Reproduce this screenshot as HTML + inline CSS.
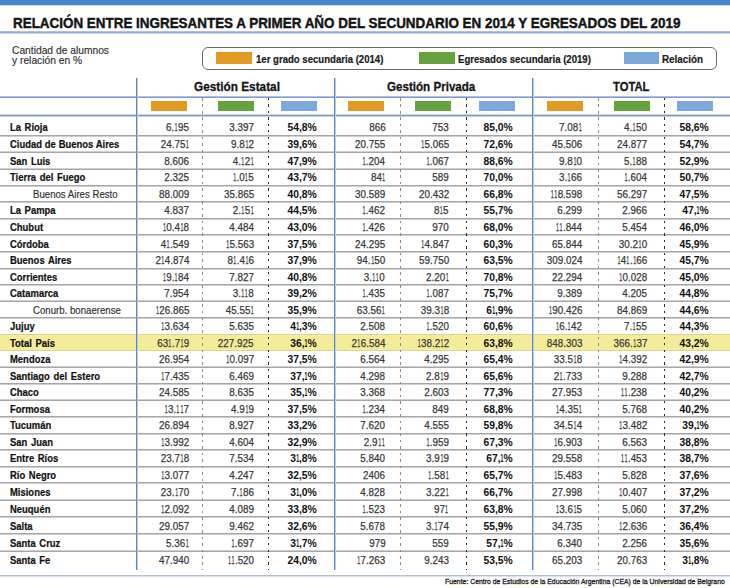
<!DOCTYPE html>
<html><head><meta charset="utf-8"><style>
html,body{margin:0;padding:0;background:#fff;}
body{width:730px;height:588px;overflow:hidden;position:relative;font-family:'Liberation Sans', sans-serif;}
</style></head><body>
<div style="position:absolute;left:0px;top:0px;width:730px;height:4px;background:#4589CD;"></div>
<div style="position:absolute;left:0px;top:4px;width:730px;height:1px;background:#5A84B8;"></div>
<div style="position:absolute;left:0px;top:5px;width:730px;height:1px;background:#C4DDF5;"></div>
<div style="position:absolute;left:13.10px;top:15.38px;font:700 15.5px/15.5px 'Liberation Sans', sans-serif;color:#141414;white-space:nowrap;transform:scaleX(0.8662);transform-origin:0 0;-webkit-text-stroke:0.45px #141414;">RELACIÓN ENTRE INGRESANTES A PRIMER AÑO DEL SECUNDARIO EN 2014 Y EGRESADOS DEL 2019</div>
<div style="position:absolute;left:0px;top:31px;width:730px;height:1px;background:#B4C0D8;"></div>
<div style="position:absolute;left:0px;top:32px;width:730px;height:1px;background:#9DADCB;"></div>
<div style="position:absolute;left:0px;top:33px;width:730px;height:1px;background:#C8D4EE;"></div>
<div style="position:absolute;left:12.40px;top:45.09px;font:400 11px/11px 'Liberation Sans', sans-serif;color:#2e2e2e;white-space:nowrap;transform:scaleX(0.9330);transform-origin:0 0;-webkit-text-stroke:0.15px #2e2e2e;">Cantidad de alumnos</div>
<div style="position:absolute;left:12.40px;top:55.09px;font:400 11px/11px 'Liberation Sans', sans-serif;color:#2e2e2e;white-space:nowrap;transform:scaleX(0.9330);transform-origin:0 0;-webkit-text-stroke:0.15px #2e2e2e;">y relación en %</div>
<div style="position:absolute;left:202px;top:47px;width:513px;height:21px;border:1px solid #6a6a6a;border-radius:6px;"></div>
<div style="position:absolute;left:216px;top:52px;width:36px;height:12px;background:#E39A23;"></div>
<div style="position:absolute;left:255.80px;top:54.29px;font:700 11px/11px 'Liberation Sans', sans-serif;color:#1a1a1a;white-space:nowrap;transform:scaleX(0.8719);transform-origin:0 0;-webkit-text-stroke:0.2px #1a1a1a;">1er grado secundaria (2014)</div>
<div style="position:absolute;left:419px;top:52px;width:36px;height:12px;background:#67A23F;"></div>
<div style="position:absolute;left:457.50px;top:54.29px;font:700 11px/11px 'Liberation Sans', sans-serif;color:#1a1a1a;white-space:nowrap;transform:scaleX(0.8729);transform-origin:0 0;-webkit-text-stroke:0.2px #1a1a1a;">Egresados secundaria (2019)</div>
<div style="position:absolute;left:624px;top:52px;width:35px;height:12px;background:#7DA8DC;"></div>
<div style="position:absolute;left:662.00px;top:54.29px;font:700 11px/11px 'Liberation Sans', sans-serif;color:#1a1a1a;white-space:nowrap;transform:scaleX(0.8942);transform-origin:0 0;-webkit-text-stroke:0.2px #1a1a1a;">Relación</div>
<div style="position:absolute;left:193.50px;top:80.00px;font:700 13.7px/13.7px 'Liberation Sans', sans-serif;color:#141414;white-space:nowrap;transform:scaleX(0.8623);transform-origin:0 0;-webkit-text-stroke:0.3px #141414;">Gestión Estatal</div>
<div style="position:absolute;left:386.80px;top:80.00px;font:700 13.7px/13.7px 'Liberation Sans', sans-serif;color:#141414;white-space:nowrap;transform:scaleX(0.8475);transform-origin:0 0;-webkit-text-stroke:0.3px #141414;">Gestión Privada</div>
<div style="position:absolute;left:613.10px;top:80.00px;font:700 13.7px/13.7px 'Liberation Sans', sans-serif;color:#141414;white-space:nowrap;transform:scaleX(0.8200);transform-origin:0 0;-webkit-text-stroke:0.3px #141414;">TOTAL</div>
<div style="position:absolute;left:0px;top:96px;width:730px;height:1px;background:#ADC2EA;"></div>
<div style="position:absolute;left:0px;top:97px;width:730px;height:1px;background:#8398C8;"></div>
<div style="position:absolute;left:0px;top:114px;width:730px;height:1px;background:#CADCF4;"></div>
<div style="position:absolute;left:0px;top:115px;width:730px;height:1px;background:#7E94C0;"></div>
<div style="position:absolute;left:0px;top:116px;width:730px;height:1px;background:#C8D1E2;"></div>
<div style="position:absolute;left:151px;top:101px;width:36px;height:10px;background:#E39A23;"></div>
<div style="position:absolute;left:218px;top:101px;width:36px;height:10px;background:#67A23F;"></div>
<div style="position:absolute;left:281px;top:101px;width:36px;height:10px;background:#7DA8DC;"></div>
<div style="position:absolute;left:348px;top:101px;width:36px;height:10px;background:#E39A23;"></div>
<div style="position:absolute;left:415px;top:101px;width:36px;height:10px;background:#67A23F;"></div>
<div style="position:absolute;left:479px;top:101px;width:36px;height:10px;background:#7DA8DC;"></div>
<div style="position:absolute;left:546.5px;top:101px;width:36px;height:10px;background:#E39A23;"></div>
<div style="position:absolute;left:613.5px;top:101px;width:36px;height:10px;background:#67A23F;"></div>
<div style="position:absolute;left:677px;top:101px;width:36px;height:10px;background:#7DA8DC;"></div>
<div style="position:absolute;left:0px;top:334px;width:730px;height:16.5px;background:#F5EC9A;"></div>
<div style="position:absolute;left:0px;top:334px;width:730px;height:1px;background:#DDD49A;"></div>
<div style="position:absolute;left:0px;top:350px;width:730px;height:1px;background:#DDD49A;"></div>
<div style="position:absolute;left:0px;top:135px;width:730px;height:1px;background:#A6A6A6;"></div>
<div style="position:absolute;left:0px;top:136px;width:730px;height:1px;background:#CFCFCF;"></div>
<div style="position:absolute;left:0px;top:152px;width:730px;height:1px;background:#A6A6A6;"></div>
<div style="position:absolute;left:0px;top:151px;width:730px;height:1px;background:#CFCFCF;"></div>
<div style="position:absolute;left:0px;top:169px;width:730px;height:1px;background:#A6A6A6;"></div>
<div style="position:absolute;left:0px;top:168px;width:730px;height:1px;background:#CFCFCF;"></div>
<div style="position:absolute;left:0px;top:185px;width:730px;height:1px;background:#A6A6A6;"></div>
<div style="position:absolute;left:0px;top:186px;width:730px;height:1px;background:#CFCFCF;"></div>
<div style="position:absolute;left:0px;top:201px;width:730px;height:1px;background:#A6A6A6;"></div>
<div style="position:absolute;left:0px;top:202px;width:730px;height:1px;background:#CFCFCF;"></div>
<div style="position:absolute;left:0px;top:218px;width:730px;height:1px;background:#A6A6A6;"></div>
<div style="position:absolute;left:0px;top:219px;width:730px;height:1px;background:#CFCFCF;"></div>
<div style="position:absolute;left:0px;top:234px;width:730px;height:1px;background:#A6A6A6;"></div>
<div style="position:absolute;left:0px;top:235px;width:730px;height:1px;background:#CFCFCF;"></div>
<div style="position:absolute;left:0px;top:251px;width:730px;height:1px;background:#A6A6A6;"></div>
<div style="position:absolute;left:0px;top:252px;width:730px;height:1px;background:#CFCFCF;"></div>
<div style="position:absolute;left:0px;top:268px;width:730px;height:1px;background:#A6A6A6;"></div>
<div style="position:absolute;left:0px;top:269px;width:730px;height:1px;background:#CFCFCF;"></div>
<div style="position:absolute;left:0px;top:284px;width:730px;height:1px;background:#A6A6A6;"></div>
<div style="position:absolute;left:0px;top:285px;width:730px;height:1px;background:#CFCFCF;"></div>
<div style="position:absolute;left:0px;top:301px;width:730px;height:1px;background:#A6A6A6;"></div>
<div style="position:absolute;left:0px;top:300px;width:730px;height:1px;background:#CFCFCF;"></div>
<div style="position:absolute;left:0px;top:317px;width:730px;height:1px;background:#A6A6A6;"></div>
<div style="position:absolute;left:0px;top:318px;width:730px;height:1px;background:#CFCFCF;"></div>
<div style="position:absolute;left:0px;top:367px;width:730px;height:1px;background:#A6A6A6;"></div>
<div style="position:absolute;left:0px;top:366px;width:730px;height:1px;background:#CFCFCF;"></div>
<div style="position:absolute;left:0px;top:383px;width:730px;height:1px;background:#A6A6A6;"></div>
<div style="position:absolute;left:0px;top:384px;width:730px;height:1px;background:#CFCFCF;"></div>
<div style="position:absolute;left:0px;top:400px;width:730px;height:1px;background:#A6A6A6;"></div>
<div style="position:absolute;left:0px;top:399px;width:730px;height:1px;background:#CFCFCF;"></div>
<div style="position:absolute;left:0px;top:416px;width:730px;height:1px;background:#A6A6A6;"></div>
<div style="position:absolute;left:0px;top:417px;width:730px;height:1px;background:#CFCFCF;"></div>
<div style="position:absolute;left:0px;top:433px;width:730px;height:1px;background:#A6A6A6;"></div>
<div style="position:absolute;left:0px;top:434px;width:730px;height:1px;background:#CFCFCF;"></div>
<div style="position:absolute;left:0px;top:449px;width:730px;height:1px;background:#A6A6A6;"></div>
<div style="position:absolute;left:0px;top:450px;width:730px;height:1px;background:#CFCFCF;"></div>
<div style="position:absolute;left:0px;top:466px;width:730px;height:1px;background:#A6A6A6;"></div>
<div style="position:absolute;left:0px;top:467px;width:730px;height:1px;background:#CFCFCF;"></div>
<div style="position:absolute;left:0px;top:482px;width:730px;height:1px;background:#A6A6A6;"></div>
<div style="position:absolute;left:0px;top:483px;width:730px;height:1px;background:#CFCFCF;"></div>
<div style="position:absolute;left:0px;top:500px;width:730px;height:1px;background:#A6A6A6;"></div>
<div style="position:absolute;left:0px;top:499px;width:730px;height:1px;background:#CFCFCF;"></div>
<div style="position:absolute;left:0px;top:516px;width:730px;height:1px;background:#A6A6A6;"></div>
<div style="position:absolute;left:0px;top:517px;width:730px;height:1px;background:#CFCFCF;"></div>
<div style="position:absolute;left:0px;top:533px;width:730px;height:1px;background:#A6A6A6;"></div>
<div style="position:absolute;left:0px;top:534px;width:730px;height:1px;background:#CFCFCF;"></div>
<div style="position:absolute;left:0px;top:551px;width:730px;height:1px;background:#A6A6A6;"></div>
<div style="position:absolute;left:0px;top:550px;width:730px;height:1px;background:#CFCFCF;"></div>
<div style="position:absolute;left:136px;top:77.5px;width:1px;height:492.5px;background:#5E84B8;"></div>
<div style="position:absolute;left:137px;top:77.5px;width:1px;height:492.5px;background:#B4D2F0;"></div>
<div style="position:absolute;left:334px;top:77.5px;width:1px;height:492.5px;background:#5E84B8;"></div>
<div style="position:absolute;left:335px;top:77.5px;width:1px;height:492.5px;background:#B4D2F0;"></div>
<div style="position:absolute;left:532px;top:77.5px;width:1px;height:492.5px;background:#5E84B8;"></div>
<div style="position:absolute;left:533px;top:77.5px;width:1px;height:492.5px;background:#B4D2F0;"></div>
<div style="position:absolute;left:202.3px;top:98px;width:1px;height:472px;background:repeating-linear-gradient(to bottom,#8a8a8a 0 2.6px,transparent 2.6px 6.45px);"></div>
<div style="position:absolute;left:267.7px;top:98px;width:1.6px;height:472px;background:repeating-linear-gradient(to bottom,#2a2a2a 0 2.2px,transparent 2.2px 6.45px);"></div>
<div style="position:absolute;left:400.1px;top:98px;width:1px;height:472px;background:repeating-linear-gradient(to bottom,#8a8a8a 0 2.6px,transparent 2.6px 6.45px);"></div>
<div style="position:absolute;left:465.7px;top:98px;width:1.6px;height:472px;background:repeating-linear-gradient(to bottom,#2a2a2a 0 2.2px,transparent 2.2px 6.45px);"></div>
<div style="position:absolute;left:597.8px;top:98px;width:1px;height:472px;background:repeating-linear-gradient(to bottom,#8a8a8a 0 2.6px,transparent 2.6px 6.45px);"></div>
<div style="position:absolute;left:663.6px;top:98px;width:1.6px;height:472px;background:repeating-linear-gradient(to bottom,#2a2a2a 0 2.2px,transparent 2.2px 6.45px);"></div>
<div style="position:absolute;left:0px;top:575px;width:730px;height:1px;background:#B5C1D6;"></div>
<div style="position:absolute;left:0px;top:576px;width:730px;height:1px;background:#D6E2F6;"></div>
<div style="position:absolute;left:9.90px;top:122.44px;font:700 10.7px/10.7px 'Liberation Sans', sans-serif;color:#111;white-space:nowrap;transform:scaleX(0.8840);transform-origin:0 0;-webkit-text-stroke:0.2px #111;word-spacing:1.1px;">La Rioja</div>
<div style="position:absolute;right:541.10px;top:122.42px;font:400 11.2px/11.2px 'Liberation Sans', sans-serif;color:#383838;white-space:nowrap;transform:scaleX(0.8800);transform-origin:100% 0;-webkit-text-stroke:0.25px #383838;">6.<span style="display:inline-block;margin:0 -1.05px;transform:scaleX(0.55)">1</span>95</div>
<div style="position:absolute;right:476.20px;top:122.42px;font:400 11.2px/11.2px 'Liberation Sans', sans-serif;color:#383838;white-space:nowrap;transform:scaleX(0.8800);transform-origin:100% 0;-webkit-text-stroke:0.25px #383838;">3.397</div>
<div style="position:absolute;right:413.10px;top:122.42px;font:700 11.2px/11.2px 'Liberation Sans', sans-serif;color:#111;white-space:nowrap;transform:scaleX(0.9230);transform-origin:100% 0;">54,8%</div>
<div style="position:absolute;right:344.70px;top:122.42px;font:400 11.2px/11.2px 'Liberation Sans', sans-serif;color:#383838;white-space:nowrap;transform:scaleX(0.8800);transform-origin:100% 0;-webkit-text-stroke:0.25px #383838;">866</div>
<div style="position:absolute;right:281.10px;top:122.42px;font:400 11.2px/11.2px 'Liberation Sans', sans-serif;color:#383838;white-space:nowrap;transform:scaleX(0.8800);transform-origin:100% 0;-webkit-text-stroke:0.25px #383838;">753</div>
<div style="position:absolute;right:217.20px;top:122.42px;font:700 11.2px/11.2px 'Liberation Sans', sans-serif;color:#111;white-space:nowrap;transform:scaleX(0.9230);transform-origin:100% 0;">85,0%</div>
<div style="position:absolute;right:148.00px;top:122.42px;font:400 11.2px/11.2px 'Liberation Sans', sans-serif;color:#383838;white-space:nowrap;transform:scaleX(0.8800);transform-origin:100% 0;-webkit-text-stroke:0.25px #383838;">7.08<span style="display:inline-block;margin:0 -1.05px;transform:scaleX(0.55)">1</span></div>
<div style="position:absolute;right:83.10px;top:122.42px;font:400 11.2px/11.2px 'Liberation Sans', sans-serif;color:#383838;white-space:nowrap;transform:scaleX(0.8800);transform-origin:100% 0;-webkit-text-stroke:0.25px #383838;">4.<span style="display:inline-block;margin:0 -1.05px;transform:scaleX(0.55)">1</span>50</div>
<div style="position:absolute;right:20.80px;top:122.42px;font:700 11.2px/11.2px 'Liberation Sans', sans-serif;color:#111;white-space:nowrap;transform:scaleX(0.9230);transform-origin:100% 0;">58,6%</div>
<div style="position:absolute;left:9.90px;top:139.09px;font:700 10.7px/10.7px 'Liberation Sans', sans-serif;color:#111;white-space:nowrap;transform:scaleX(0.8840);transform-origin:0 0;-webkit-text-stroke:0.2px #111;word-spacing:0.2px;">Ciudad de Buenos Aires</div>
<div style="position:absolute;right:541.10px;top:139.07px;font:400 11.2px/11.2px 'Liberation Sans', sans-serif;color:#383838;white-space:nowrap;transform:scaleX(0.8800);transform-origin:100% 0;-webkit-text-stroke:0.25px #383838;">24.75<span style="display:inline-block;margin:0 -1.05px;transform:scaleX(0.55)">1</span></div>
<div style="position:absolute;right:476.20px;top:139.07px;font:400 11.2px/11.2px 'Liberation Sans', sans-serif;color:#383838;white-space:nowrap;transform:scaleX(0.8800);transform-origin:100% 0;-webkit-text-stroke:0.25px #383838;">9.8<span style="display:inline-block;margin:0 -1.05px;transform:scaleX(0.55)">1</span>2</div>
<div style="position:absolute;right:413.10px;top:139.07px;font:700 11.2px/11.2px 'Liberation Sans', sans-serif;color:#111;white-space:nowrap;transform:scaleX(0.9230);transform-origin:100% 0;">39,6%</div>
<div style="position:absolute;right:344.70px;top:139.07px;font:400 11.2px/11.2px 'Liberation Sans', sans-serif;color:#383838;white-space:nowrap;transform:scaleX(0.8800);transform-origin:100% 0;-webkit-text-stroke:0.25px #383838;">20.755</div>
<div style="position:absolute;right:281.10px;top:139.07px;font:400 11.2px/11.2px 'Liberation Sans', sans-serif;color:#383838;white-space:nowrap;transform:scaleX(0.8800);transform-origin:100% 0;-webkit-text-stroke:0.25px #383838;"><span style="display:inline-block;margin:0 -1.05px;transform:scaleX(0.55)">1</span>5.065</div>
<div style="position:absolute;right:217.20px;top:139.07px;font:700 11.2px/11.2px 'Liberation Sans', sans-serif;color:#111;white-space:nowrap;transform:scaleX(0.9230);transform-origin:100% 0;">72,6%</div>
<div style="position:absolute;right:148.00px;top:139.07px;font:400 11.2px/11.2px 'Liberation Sans', sans-serif;color:#383838;white-space:nowrap;transform:scaleX(0.8800);transform-origin:100% 0;-webkit-text-stroke:0.25px #383838;">45.506</div>
<div style="position:absolute;right:83.10px;top:139.07px;font:400 11.2px/11.2px 'Liberation Sans', sans-serif;color:#383838;white-space:nowrap;transform:scaleX(0.8800);transform-origin:100% 0;-webkit-text-stroke:0.25px #383838;">24.877</div>
<div style="position:absolute;right:20.80px;top:139.07px;font:700 11.2px/11.2px 'Liberation Sans', sans-serif;color:#111;white-space:nowrap;transform:scaleX(0.9230);transform-origin:100% 0;">54,7%</div>
<div style="position:absolute;left:9.90px;top:155.84px;font:700 10.7px/10.7px 'Liberation Sans', sans-serif;color:#111;white-space:nowrap;transform:scaleX(0.8840);transform-origin:0 0;-webkit-text-stroke:0.2px #111;word-spacing:1.1px;">San Luis</div>
<div style="position:absolute;right:541.10px;top:155.82px;font:400 11.2px/11.2px 'Liberation Sans', sans-serif;color:#383838;white-space:nowrap;transform:scaleX(0.8800);transform-origin:100% 0;-webkit-text-stroke:0.25px #383838;">8.606</div>
<div style="position:absolute;right:476.20px;top:155.82px;font:400 11.2px/11.2px 'Liberation Sans', sans-serif;color:#383838;white-space:nowrap;transform:scaleX(0.8800);transform-origin:100% 0;-webkit-text-stroke:0.25px #383838;">4.<span style="display:inline-block;margin:0 -1.05px;transform:scaleX(0.55)">1</span>2<span style="display:inline-block;margin:0 -1.05px;transform:scaleX(0.55)">1</span></div>
<div style="position:absolute;right:413.10px;top:155.82px;font:700 11.2px/11.2px 'Liberation Sans', sans-serif;color:#111;white-space:nowrap;transform:scaleX(0.9230);transform-origin:100% 0;">47,9%</div>
<div style="position:absolute;right:344.70px;top:155.82px;font:400 11.2px/11.2px 'Liberation Sans', sans-serif;color:#383838;white-space:nowrap;transform:scaleX(0.8800);transform-origin:100% 0;-webkit-text-stroke:0.25px #383838;"><span style="display:inline-block;margin:0 -1.05px;transform:scaleX(0.55)">1</span>.204</div>
<div style="position:absolute;right:281.10px;top:155.82px;font:400 11.2px/11.2px 'Liberation Sans', sans-serif;color:#383838;white-space:nowrap;transform:scaleX(0.8800);transform-origin:100% 0;-webkit-text-stroke:0.25px #383838;"><span style="display:inline-block;margin:0 -1.05px;transform:scaleX(0.55)">1</span>.067</div>
<div style="position:absolute;right:217.20px;top:155.82px;font:700 11.2px/11.2px 'Liberation Sans', sans-serif;color:#111;white-space:nowrap;transform:scaleX(0.9230);transform-origin:100% 0;">88,6%</div>
<div style="position:absolute;right:148.00px;top:155.82px;font:400 11.2px/11.2px 'Liberation Sans', sans-serif;color:#383838;white-space:nowrap;transform:scaleX(0.8800);transform-origin:100% 0;-webkit-text-stroke:0.25px #383838;">9.8<span style="display:inline-block;margin:0 -1.05px;transform:scaleX(0.55)">1</span>0</div>
<div style="position:absolute;right:83.10px;top:155.82px;font:400 11.2px/11.2px 'Liberation Sans', sans-serif;color:#383838;white-space:nowrap;transform:scaleX(0.8800);transform-origin:100% 0;-webkit-text-stroke:0.25px #383838;">5.<span style="display:inline-block;margin:0 -1.05px;transform:scaleX(0.55)">1</span>88</div>
<div style="position:absolute;right:20.80px;top:155.82px;font:700 11.2px/11.2px 'Liberation Sans', sans-serif;color:#111;white-space:nowrap;transform:scaleX(0.9230);transform-origin:100% 0;">52,9%</div>
<div style="position:absolute;left:9.90px;top:172.49px;font:700 10.7px/10.7px 'Liberation Sans', sans-serif;color:#111;white-space:nowrap;transform:scaleX(0.8840);transform-origin:0 0;-webkit-text-stroke:0.2px #111;word-spacing:1.1px;">Tierra del Fuego</div>
<div style="position:absolute;right:541.10px;top:172.47px;font:400 11.2px/11.2px 'Liberation Sans', sans-serif;color:#383838;white-space:nowrap;transform:scaleX(0.8800);transform-origin:100% 0;-webkit-text-stroke:0.25px #383838;">2.325</div>
<div style="position:absolute;right:476.20px;top:172.47px;font:400 11.2px/11.2px 'Liberation Sans', sans-serif;color:#383838;white-space:nowrap;transform:scaleX(0.8800);transform-origin:100% 0;-webkit-text-stroke:0.25px #383838;"><span style="display:inline-block;margin:0 -1.05px;transform:scaleX(0.55)">1</span>.0<span style="display:inline-block;margin:0 -1.05px;transform:scaleX(0.55)">1</span>5</div>
<div style="position:absolute;right:413.10px;top:172.47px;font:700 11.2px/11.2px 'Liberation Sans', sans-serif;color:#111;white-space:nowrap;transform:scaleX(0.9230);transform-origin:100% 0;">43,7%</div>
<div style="position:absolute;right:344.70px;top:172.47px;font:400 11.2px/11.2px 'Liberation Sans', sans-serif;color:#383838;white-space:nowrap;transform:scaleX(0.8800);transform-origin:100% 0;-webkit-text-stroke:0.25px #383838;">84<span style="display:inline-block;margin:0 -1.05px;transform:scaleX(0.55)">1</span></div>
<div style="position:absolute;right:281.10px;top:172.47px;font:400 11.2px/11.2px 'Liberation Sans', sans-serif;color:#383838;white-space:nowrap;transform:scaleX(0.8800);transform-origin:100% 0;-webkit-text-stroke:0.25px #383838;">589</div>
<div style="position:absolute;right:217.20px;top:172.47px;font:700 11.2px/11.2px 'Liberation Sans', sans-serif;color:#111;white-space:nowrap;transform:scaleX(0.9230);transform-origin:100% 0;">70,0%</div>
<div style="position:absolute;right:148.00px;top:172.47px;font:400 11.2px/11.2px 'Liberation Sans', sans-serif;color:#383838;white-space:nowrap;transform:scaleX(0.8800);transform-origin:100% 0;-webkit-text-stroke:0.25px #383838;">3.<span style="display:inline-block;margin:0 -1.05px;transform:scaleX(0.55)">1</span>66</div>
<div style="position:absolute;right:83.10px;top:172.47px;font:400 11.2px/11.2px 'Liberation Sans', sans-serif;color:#383838;white-space:nowrap;transform:scaleX(0.8800);transform-origin:100% 0;-webkit-text-stroke:0.25px #383838;"><span style="display:inline-block;margin:0 -1.05px;transform:scaleX(0.55)">1</span>.604</div>
<div style="position:absolute;right:20.80px;top:172.47px;font:700 11.2px/11.2px 'Liberation Sans', sans-serif;color:#111;white-space:nowrap;transform:scaleX(0.9230);transform-origin:100% 0;">50,7%</div>
<div style="position:absolute;left:32.60px;top:188.72px;font:400 10.9px/10.9px 'Liberation Sans', sans-serif;color:#2e2e2e;white-space:nowrap;transform:scaleX(0.8850);transform-origin:0 0;-webkit-text-stroke:0.15px #2e2e2e;">Buenos Aires Resto</div>
<div style="position:absolute;right:541.10px;top:188.87px;font:400 11.2px/11.2px 'Liberation Sans', sans-serif;color:#383838;white-space:nowrap;transform:scaleX(0.8800);transform-origin:100% 0;-webkit-text-stroke:0.25px #383838;">88.009</div>
<div style="position:absolute;right:476.20px;top:188.87px;font:400 11.2px/11.2px 'Liberation Sans', sans-serif;color:#383838;white-space:nowrap;transform:scaleX(0.8800);transform-origin:100% 0;-webkit-text-stroke:0.25px #383838;">35.865</div>
<div style="position:absolute;right:413.10px;top:188.87px;font:700 11.2px/11.2px 'Liberation Sans', sans-serif;color:#111;white-space:nowrap;transform:scaleX(0.9230);transform-origin:100% 0;">40,8%</div>
<div style="position:absolute;right:344.70px;top:188.87px;font:400 11.2px/11.2px 'Liberation Sans', sans-serif;color:#383838;white-space:nowrap;transform:scaleX(0.8800);transform-origin:100% 0;-webkit-text-stroke:0.25px #383838;">30.589</div>
<div style="position:absolute;right:281.10px;top:188.87px;font:400 11.2px/11.2px 'Liberation Sans', sans-serif;color:#383838;white-space:nowrap;transform:scaleX(0.8800);transform-origin:100% 0;-webkit-text-stroke:0.25px #383838;">20.432</div>
<div style="position:absolute;right:217.20px;top:188.87px;font:700 11.2px/11.2px 'Liberation Sans', sans-serif;color:#111;white-space:nowrap;transform:scaleX(0.9230);transform-origin:100% 0;">66,8%</div>
<div style="position:absolute;right:148.00px;top:188.87px;font:400 11.2px/11.2px 'Liberation Sans', sans-serif;color:#383838;white-space:nowrap;transform:scaleX(0.8800);transform-origin:100% 0;-webkit-text-stroke:0.25px #383838;"><span style="display:inline-block;margin:0 -1.05px;transform:scaleX(0.55)">1</span><span style="display:inline-block;margin:0 -1.05px;transform:scaleX(0.55)">1</span>8.598</div>
<div style="position:absolute;right:83.10px;top:188.87px;font:400 11.2px/11.2px 'Liberation Sans', sans-serif;color:#383838;white-space:nowrap;transform:scaleX(0.8800);transform-origin:100% 0;-webkit-text-stroke:0.25px #383838;">56.297</div>
<div style="position:absolute;right:20.80px;top:188.87px;font:700 11.2px/11.2px 'Liberation Sans', sans-serif;color:#111;white-space:nowrap;transform:scaleX(0.9230);transform-origin:100% 0;">47,5%</div>
<div style="position:absolute;left:9.90px;top:205.39px;font:700 10.7px/10.7px 'Liberation Sans', sans-serif;color:#111;white-space:nowrap;transform:scaleX(0.8840);transform-origin:0 0;-webkit-text-stroke:0.2px #111;word-spacing:1.1px;">La Pampa</div>
<div style="position:absolute;right:541.10px;top:205.37px;font:400 11.2px/11.2px 'Liberation Sans', sans-serif;color:#383838;white-space:nowrap;transform:scaleX(0.8800);transform-origin:100% 0;-webkit-text-stroke:0.25px #383838;">4.837</div>
<div style="position:absolute;right:476.20px;top:205.37px;font:400 11.2px/11.2px 'Liberation Sans', sans-serif;color:#383838;white-space:nowrap;transform:scaleX(0.8800);transform-origin:100% 0;-webkit-text-stroke:0.25px #383838;">2.<span style="display:inline-block;margin:0 -1.05px;transform:scaleX(0.55)">1</span>5<span style="display:inline-block;margin:0 -1.05px;transform:scaleX(0.55)">1</span></div>
<div style="position:absolute;right:413.10px;top:205.37px;font:700 11.2px/11.2px 'Liberation Sans', sans-serif;color:#111;white-space:nowrap;transform:scaleX(0.9230);transform-origin:100% 0;">44,5%</div>
<div style="position:absolute;right:344.70px;top:205.37px;font:400 11.2px/11.2px 'Liberation Sans', sans-serif;color:#383838;white-space:nowrap;transform:scaleX(0.8800);transform-origin:100% 0;-webkit-text-stroke:0.25px #383838;"><span style="display:inline-block;margin:0 -1.05px;transform:scaleX(0.55)">1</span>.462</div>
<div style="position:absolute;right:281.10px;top:205.37px;font:400 11.2px/11.2px 'Liberation Sans', sans-serif;color:#383838;white-space:nowrap;transform:scaleX(0.8800);transform-origin:100% 0;-webkit-text-stroke:0.25px #383838;">8<span style="display:inline-block;margin:0 -1.05px;transform:scaleX(0.55)">1</span>5</div>
<div style="position:absolute;right:217.20px;top:205.37px;font:700 11.2px/11.2px 'Liberation Sans', sans-serif;color:#111;white-space:nowrap;transform:scaleX(0.9230);transform-origin:100% 0;">55,7%</div>
<div style="position:absolute;right:148.00px;top:205.37px;font:400 11.2px/11.2px 'Liberation Sans', sans-serif;color:#383838;white-space:nowrap;transform:scaleX(0.8800);transform-origin:100% 0;-webkit-text-stroke:0.25px #383838;">6.299</div>
<div style="position:absolute;right:83.10px;top:205.37px;font:400 11.2px/11.2px 'Liberation Sans', sans-serif;color:#383838;white-space:nowrap;transform:scaleX(0.8800);transform-origin:100% 0;-webkit-text-stroke:0.25px #383838;">2.966</div>
<div style="position:absolute;right:20.80px;top:205.37px;font:700 11.2px/11.2px 'Liberation Sans', sans-serif;color:#111;white-space:nowrap;transform:scaleX(0.9230);transform-origin:100% 0;">47,<span style="display:inline-block;margin:0 -1.50px;transform:scaleX(0.5)">1</span>%</div>
<div style="position:absolute;left:9.90px;top:221.94px;font:700 10.7px/10.7px 'Liberation Sans', sans-serif;color:#111;white-space:nowrap;transform:scaleX(0.8840);transform-origin:0 0;-webkit-text-stroke:0.2px #111;word-spacing:1.1px;">Chubut</div>
<div style="position:absolute;right:541.10px;top:221.92px;font:400 11.2px/11.2px 'Liberation Sans', sans-serif;color:#383838;white-space:nowrap;transform:scaleX(0.8800);transform-origin:100% 0;-webkit-text-stroke:0.25px #383838;"><span style="display:inline-block;margin:0 -1.05px;transform:scaleX(0.55)">1</span>0.4<span style="display:inline-block;margin:0 -1.05px;transform:scaleX(0.55)">1</span>8</div>
<div style="position:absolute;right:476.20px;top:221.92px;font:400 11.2px/11.2px 'Liberation Sans', sans-serif;color:#383838;white-space:nowrap;transform:scaleX(0.8800);transform-origin:100% 0;-webkit-text-stroke:0.25px #383838;">4.484</div>
<div style="position:absolute;right:413.10px;top:221.92px;font:700 11.2px/11.2px 'Liberation Sans', sans-serif;color:#111;white-space:nowrap;transform:scaleX(0.9230);transform-origin:100% 0;">43,0%</div>
<div style="position:absolute;right:344.70px;top:221.92px;font:400 11.2px/11.2px 'Liberation Sans', sans-serif;color:#383838;white-space:nowrap;transform:scaleX(0.8800);transform-origin:100% 0;-webkit-text-stroke:0.25px #383838;"><span style="display:inline-block;margin:0 -1.05px;transform:scaleX(0.55)">1</span>.426</div>
<div style="position:absolute;right:281.10px;top:221.92px;font:400 11.2px/11.2px 'Liberation Sans', sans-serif;color:#383838;white-space:nowrap;transform:scaleX(0.8800);transform-origin:100% 0;-webkit-text-stroke:0.25px #383838;">970</div>
<div style="position:absolute;right:217.20px;top:221.92px;font:700 11.2px/11.2px 'Liberation Sans', sans-serif;color:#111;white-space:nowrap;transform:scaleX(0.9230);transform-origin:100% 0;">68,0%</div>
<div style="position:absolute;right:148.00px;top:221.92px;font:400 11.2px/11.2px 'Liberation Sans', sans-serif;color:#383838;white-space:nowrap;transform:scaleX(0.8800);transform-origin:100% 0;-webkit-text-stroke:0.25px #383838;"><span style="display:inline-block;margin:0 -1.05px;transform:scaleX(0.55)">1</span><span style="display:inline-block;margin:0 -1.05px;transform:scaleX(0.55)">1</span>.844</div>
<div style="position:absolute;right:83.10px;top:221.92px;font:400 11.2px/11.2px 'Liberation Sans', sans-serif;color:#383838;white-space:nowrap;transform:scaleX(0.8800);transform-origin:100% 0;-webkit-text-stroke:0.25px #383838;">5.454</div>
<div style="position:absolute;right:20.80px;top:221.92px;font:700 11.2px/11.2px 'Liberation Sans', sans-serif;color:#111;white-space:nowrap;transform:scaleX(0.9230);transform-origin:100% 0;">46,0%</div>
<div style="position:absolute;left:9.90px;top:238.59px;font:700 10.7px/10.7px 'Liberation Sans', sans-serif;color:#111;white-space:nowrap;transform:scaleX(0.8840);transform-origin:0 0;-webkit-text-stroke:0.2px #111;word-spacing:1.1px;">Córdoba</div>
<div style="position:absolute;right:541.10px;top:238.57px;font:400 11.2px/11.2px 'Liberation Sans', sans-serif;color:#383838;white-space:nowrap;transform:scaleX(0.8800);transform-origin:100% 0;-webkit-text-stroke:0.25px #383838;">4<span style="display:inline-block;margin:0 -1.05px;transform:scaleX(0.55)">1</span>.549</div>
<div style="position:absolute;right:476.20px;top:238.57px;font:400 11.2px/11.2px 'Liberation Sans', sans-serif;color:#383838;white-space:nowrap;transform:scaleX(0.8800);transform-origin:100% 0;-webkit-text-stroke:0.25px #383838;"><span style="display:inline-block;margin:0 -1.05px;transform:scaleX(0.55)">1</span>5.563</div>
<div style="position:absolute;right:413.10px;top:238.57px;font:700 11.2px/11.2px 'Liberation Sans', sans-serif;color:#111;white-space:nowrap;transform:scaleX(0.9230);transform-origin:100% 0;">37,5%</div>
<div style="position:absolute;right:344.70px;top:238.57px;font:400 11.2px/11.2px 'Liberation Sans', sans-serif;color:#383838;white-space:nowrap;transform:scaleX(0.8800);transform-origin:100% 0;-webkit-text-stroke:0.25px #383838;">24.295</div>
<div style="position:absolute;right:281.10px;top:238.57px;font:400 11.2px/11.2px 'Liberation Sans', sans-serif;color:#383838;white-space:nowrap;transform:scaleX(0.8800);transform-origin:100% 0;-webkit-text-stroke:0.25px #383838;"><span style="display:inline-block;margin:0 -1.05px;transform:scaleX(0.55)">1</span>4.847</div>
<div style="position:absolute;right:217.20px;top:238.57px;font:700 11.2px/11.2px 'Liberation Sans', sans-serif;color:#111;white-space:nowrap;transform:scaleX(0.9230);transform-origin:100% 0;">60,3%</div>
<div style="position:absolute;right:148.00px;top:238.57px;font:400 11.2px/11.2px 'Liberation Sans', sans-serif;color:#383838;white-space:nowrap;transform:scaleX(0.8800);transform-origin:100% 0;-webkit-text-stroke:0.25px #383838;">65.844</div>
<div style="position:absolute;right:83.10px;top:238.57px;font:400 11.2px/11.2px 'Liberation Sans', sans-serif;color:#383838;white-space:nowrap;transform:scaleX(0.8800);transform-origin:100% 0;-webkit-text-stroke:0.25px #383838;">30.2<span style="display:inline-block;margin:0 -1.05px;transform:scaleX(0.55)">1</span>0</div>
<div style="position:absolute;right:20.80px;top:238.57px;font:700 11.2px/11.2px 'Liberation Sans', sans-serif;color:#111;white-space:nowrap;transform:scaleX(0.9230);transform-origin:100% 0;">45,9%</div>
<div style="position:absolute;left:9.90px;top:255.44px;font:700 10.7px/10.7px 'Liberation Sans', sans-serif;color:#111;white-space:nowrap;transform:scaleX(0.8840);transform-origin:0 0;-webkit-text-stroke:0.2px #111;word-spacing:1.1px;">Buenos Aires</div>
<div style="position:absolute;right:541.10px;top:255.42px;font:400 11.2px/11.2px 'Liberation Sans', sans-serif;color:#383838;white-space:nowrap;transform:scaleX(0.8800);transform-origin:100% 0;-webkit-text-stroke:0.25px #383838;">2<span style="display:inline-block;margin:0 -1.05px;transform:scaleX(0.55)">1</span>4.874</div>
<div style="position:absolute;right:476.20px;top:255.42px;font:400 11.2px/11.2px 'Liberation Sans', sans-serif;color:#383838;white-space:nowrap;transform:scaleX(0.8800);transform-origin:100% 0;-webkit-text-stroke:0.25px #383838;">8<span style="display:inline-block;margin:0 -1.05px;transform:scaleX(0.55)">1</span>.4<span style="display:inline-block;margin:0 -1.05px;transform:scaleX(0.55)">1</span>6</div>
<div style="position:absolute;right:413.10px;top:255.42px;font:700 11.2px/11.2px 'Liberation Sans', sans-serif;color:#111;white-space:nowrap;transform:scaleX(0.9230);transform-origin:100% 0;">37,9%</div>
<div style="position:absolute;right:344.70px;top:255.42px;font:400 11.2px/11.2px 'Liberation Sans', sans-serif;color:#383838;white-space:nowrap;transform:scaleX(0.8800);transform-origin:100% 0;-webkit-text-stroke:0.25px #383838;">94.<span style="display:inline-block;margin:0 -1.05px;transform:scaleX(0.55)">1</span>50</div>
<div style="position:absolute;right:281.10px;top:255.42px;font:400 11.2px/11.2px 'Liberation Sans', sans-serif;color:#383838;white-space:nowrap;transform:scaleX(0.8800);transform-origin:100% 0;-webkit-text-stroke:0.25px #383838;">59.750</div>
<div style="position:absolute;right:217.20px;top:255.42px;font:700 11.2px/11.2px 'Liberation Sans', sans-serif;color:#111;white-space:nowrap;transform:scaleX(0.9230);transform-origin:100% 0;">63,5%</div>
<div style="position:absolute;right:148.00px;top:255.42px;font:400 11.2px/11.2px 'Liberation Sans', sans-serif;color:#383838;white-space:nowrap;transform:scaleX(0.8800);transform-origin:100% 0;-webkit-text-stroke:0.25px #383838;">309.024</div>
<div style="position:absolute;right:83.10px;top:255.42px;font:400 11.2px/11.2px 'Liberation Sans', sans-serif;color:#383838;white-space:nowrap;transform:scaleX(0.8800);transform-origin:100% 0;-webkit-text-stroke:0.25px #383838;"><span style="display:inline-block;margin:0 -1.05px;transform:scaleX(0.55)">1</span>4<span style="display:inline-block;margin:0 -1.05px;transform:scaleX(0.55)">1</span>.<span style="display:inline-block;margin:0 -1.05px;transform:scaleX(0.55)">1</span>66</div>
<div style="position:absolute;right:20.80px;top:255.42px;font:700 11.2px/11.2px 'Liberation Sans', sans-serif;color:#111;white-space:nowrap;transform:scaleX(0.9230);transform-origin:100% 0;">45,7%</div>
<div style="position:absolute;left:9.90px;top:271.99px;font:700 10.7px/10.7px 'Liberation Sans', sans-serif;color:#111;white-space:nowrap;transform:scaleX(0.8840);transform-origin:0 0;-webkit-text-stroke:0.2px #111;word-spacing:1.1px;">Corrientes</div>
<div style="position:absolute;right:541.10px;top:271.97px;font:400 11.2px/11.2px 'Liberation Sans', sans-serif;color:#383838;white-space:nowrap;transform:scaleX(0.8800);transform-origin:100% 0;-webkit-text-stroke:0.25px #383838;"><span style="display:inline-block;margin:0 -1.05px;transform:scaleX(0.55)">1</span>9.<span style="display:inline-block;margin:0 -1.05px;transform:scaleX(0.55)">1</span>84</div>
<div style="position:absolute;right:476.20px;top:271.97px;font:400 11.2px/11.2px 'Liberation Sans', sans-serif;color:#383838;white-space:nowrap;transform:scaleX(0.8800);transform-origin:100% 0;-webkit-text-stroke:0.25px #383838;">7.827</div>
<div style="position:absolute;right:413.10px;top:271.97px;font:700 11.2px/11.2px 'Liberation Sans', sans-serif;color:#111;white-space:nowrap;transform:scaleX(0.9230);transform-origin:100% 0;">40,8%</div>
<div style="position:absolute;right:344.70px;top:271.97px;font:400 11.2px/11.2px 'Liberation Sans', sans-serif;color:#383838;white-space:nowrap;transform:scaleX(0.8800);transform-origin:100% 0;-webkit-text-stroke:0.25px #383838;">3.<span style="display:inline-block;margin:0 -1.05px;transform:scaleX(0.55)">1</span><span style="display:inline-block;margin:0 -1.05px;transform:scaleX(0.55)">1</span>0</div>
<div style="position:absolute;right:281.10px;top:271.97px;font:400 11.2px/11.2px 'Liberation Sans', sans-serif;color:#383838;white-space:nowrap;transform:scaleX(0.8800);transform-origin:100% 0;-webkit-text-stroke:0.25px #383838;">2.20<span style="display:inline-block;margin:0 -1.05px;transform:scaleX(0.55)">1</span></div>
<div style="position:absolute;right:217.20px;top:271.97px;font:700 11.2px/11.2px 'Liberation Sans', sans-serif;color:#111;white-space:nowrap;transform:scaleX(0.9230);transform-origin:100% 0;">70,8%</div>
<div style="position:absolute;right:148.00px;top:271.97px;font:400 11.2px/11.2px 'Liberation Sans', sans-serif;color:#383838;white-space:nowrap;transform:scaleX(0.8800);transform-origin:100% 0;-webkit-text-stroke:0.25px #383838;">22.294</div>
<div style="position:absolute;right:83.10px;top:271.97px;font:400 11.2px/11.2px 'Liberation Sans', sans-serif;color:#383838;white-space:nowrap;transform:scaleX(0.8800);transform-origin:100% 0;-webkit-text-stroke:0.25px #383838;"><span style="display:inline-block;margin:0 -1.05px;transform:scaleX(0.55)">1</span>0.028</div>
<div style="position:absolute;right:20.80px;top:271.97px;font:700 11.2px/11.2px 'Liberation Sans', sans-serif;color:#111;white-space:nowrap;transform:scaleX(0.9230);transform-origin:100% 0;">45,0%</div>
<div style="position:absolute;left:9.90px;top:288.29px;font:700 10.7px/10.7px 'Liberation Sans', sans-serif;color:#111;white-space:nowrap;transform:scaleX(0.8840);transform-origin:0 0;-webkit-text-stroke:0.2px #111;word-spacing:1.1px;">Catamarca</div>
<div style="position:absolute;right:541.10px;top:288.27px;font:400 11.2px/11.2px 'Liberation Sans', sans-serif;color:#383838;white-space:nowrap;transform:scaleX(0.8800);transform-origin:100% 0;-webkit-text-stroke:0.25px #383838;">7.954</div>
<div style="position:absolute;right:476.20px;top:288.27px;font:400 11.2px/11.2px 'Liberation Sans', sans-serif;color:#383838;white-space:nowrap;transform:scaleX(0.8800);transform-origin:100% 0;-webkit-text-stroke:0.25px #383838;">3.<span style="display:inline-block;margin:0 -1.05px;transform:scaleX(0.55)">1</span><span style="display:inline-block;margin:0 -1.05px;transform:scaleX(0.55)">1</span>8</div>
<div style="position:absolute;right:413.10px;top:288.27px;font:700 11.2px/11.2px 'Liberation Sans', sans-serif;color:#111;white-space:nowrap;transform:scaleX(0.9230);transform-origin:100% 0;">39,2%</div>
<div style="position:absolute;right:344.70px;top:288.27px;font:400 11.2px/11.2px 'Liberation Sans', sans-serif;color:#383838;white-space:nowrap;transform:scaleX(0.8800);transform-origin:100% 0;-webkit-text-stroke:0.25px #383838;"><span style="display:inline-block;margin:0 -1.05px;transform:scaleX(0.55)">1</span>.435</div>
<div style="position:absolute;right:281.10px;top:288.27px;font:400 11.2px/11.2px 'Liberation Sans', sans-serif;color:#383838;white-space:nowrap;transform:scaleX(0.8800);transform-origin:100% 0;-webkit-text-stroke:0.25px #383838;"><span style="display:inline-block;margin:0 -1.05px;transform:scaleX(0.55)">1</span>.087</div>
<div style="position:absolute;right:217.20px;top:288.27px;font:700 11.2px/11.2px 'Liberation Sans', sans-serif;color:#111;white-space:nowrap;transform:scaleX(0.9230);transform-origin:100% 0;">75,7%</div>
<div style="position:absolute;right:148.00px;top:288.27px;font:400 11.2px/11.2px 'Liberation Sans', sans-serif;color:#383838;white-space:nowrap;transform:scaleX(0.8800);transform-origin:100% 0;-webkit-text-stroke:0.25px #383838;">9.389</div>
<div style="position:absolute;right:83.10px;top:288.27px;font:400 11.2px/11.2px 'Liberation Sans', sans-serif;color:#383838;white-space:nowrap;transform:scaleX(0.8800);transform-origin:100% 0;-webkit-text-stroke:0.25px #383838;">4.205</div>
<div style="position:absolute;right:20.80px;top:288.27px;font:700 11.2px/11.2px 'Liberation Sans', sans-serif;color:#111;white-space:nowrap;transform:scaleX(0.9230);transform-origin:100% 0;">44,8%</div>
<div style="position:absolute;left:32.60px;top:304.62px;font:400 10.9px/10.9px 'Liberation Sans', sans-serif;color:#2e2e2e;white-space:nowrap;transform:scaleX(0.8850);transform-origin:0 0;-webkit-text-stroke:0.15px #2e2e2e;">Conurb. bonaerense</div>
<div style="position:absolute;right:541.10px;top:304.77px;font:400 11.2px/11.2px 'Liberation Sans', sans-serif;color:#383838;white-space:nowrap;transform:scaleX(0.8800);transform-origin:100% 0;-webkit-text-stroke:0.25px #383838;"><span style="display:inline-block;margin:0 -1.05px;transform:scaleX(0.55)">1</span>26.865</div>
<div style="position:absolute;right:476.20px;top:304.77px;font:400 11.2px/11.2px 'Liberation Sans', sans-serif;color:#383838;white-space:nowrap;transform:scaleX(0.8800);transform-origin:100% 0;-webkit-text-stroke:0.25px #383838;">45.55<span style="display:inline-block;margin:0 -1.05px;transform:scaleX(0.55)">1</span></div>
<div style="position:absolute;right:413.10px;top:304.77px;font:700 11.2px/11.2px 'Liberation Sans', sans-serif;color:#111;white-space:nowrap;transform:scaleX(0.9230);transform-origin:100% 0;">35,9%</div>
<div style="position:absolute;right:344.70px;top:304.77px;font:400 11.2px/11.2px 'Liberation Sans', sans-serif;color:#383838;white-space:nowrap;transform:scaleX(0.8800);transform-origin:100% 0;-webkit-text-stroke:0.25px #383838;">63.56<span style="display:inline-block;margin:0 -1.05px;transform:scaleX(0.55)">1</span></div>
<div style="position:absolute;right:281.10px;top:304.77px;font:400 11.2px/11.2px 'Liberation Sans', sans-serif;color:#383838;white-space:nowrap;transform:scaleX(0.8800);transform-origin:100% 0;-webkit-text-stroke:0.25px #383838;">39.3<span style="display:inline-block;margin:0 -1.05px;transform:scaleX(0.55)">1</span>8</div>
<div style="position:absolute;right:217.20px;top:304.77px;font:700 11.2px/11.2px 'Liberation Sans', sans-serif;color:#111;white-space:nowrap;transform:scaleX(0.9230);transform-origin:100% 0;">6<span style="display:inline-block;margin:0 -1.50px;transform:scaleX(0.5)">1</span>,9%</div>
<div style="position:absolute;right:148.00px;top:304.77px;font:400 11.2px/11.2px 'Liberation Sans', sans-serif;color:#383838;white-space:nowrap;transform:scaleX(0.8800);transform-origin:100% 0;-webkit-text-stroke:0.25px #383838;"><span style="display:inline-block;margin:0 -1.05px;transform:scaleX(0.55)">1</span>90.426</div>
<div style="position:absolute;right:83.10px;top:304.77px;font:400 11.2px/11.2px 'Liberation Sans', sans-serif;color:#383838;white-space:nowrap;transform:scaleX(0.8800);transform-origin:100% 0;-webkit-text-stroke:0.25px #383838;">84.869</div>
<div style="position:absolute;right:20.80px;top:304.77px;font:700 11.2px/11.2px 'Liberation Sans', sans-serif;color:#111;white-space:nowrap;transform:scaleX(0.9230);transform-origin:100% 0;">44,6%</div>
<div style="position:absolute;left:9.90px;top:321.24px;font:700 10.7px/10.7px 'Liberation Sans', sans-serif;color:#111;white-space:nowrap;transform:scaleX(0.8840);transform-origin:0 0;-webkit-text-stroke:0.2px #111;word-spacing:1.1px;">Jujuy</div>
<div style="position:absolute;right:541.10px;top:321.22px;font:400 11.2px/11.2px 'Liberation Sans', sans-serif;color:#383838;white-space:nowrap;transform:scaleX(0.8800);transform-origin:100% 0;-webkit-text-stroke:0.25px #383838;"><span style="display:inline-block;margin:0 -1.05px;transform:scaleX(0.55)">1</span>3.634</div>
<div style="position:absolute;right:476.20px;top:321.22px;font:400 11.2px/11.2px 'Liberation Sans', sans-serif;color:#383838;white-space:nowrap;transform:scaleX(0.8800);transform-origin:100% 0;-webkit-text-stroke:0.25px #383838;">5.635</div>
<div style="position:absolute;right:413.10px;top:321.22px;font:700 11.2px/11.2px 'Liberation Sans', sans-serif;color:#111;white-space:nowrap;transform:scaleX(0.9230);transform-origin:100% 0;">4<span style="display:inline-block;margin:0 -1.50px;transform:scaleX(0.5)">1</span>,3%</div>
<div style="position:absolute;right:344.70px;top:321.22px;font:400 11.2px/11.2px 'Liberation Sans', sans-serif;color:#383838;white-space:nowrap;transform:scaleX(0.8800);transform-origin:100% 0;-webkit-text-stroke:0.25px #383838;">2.508</div>
<div style="position:absolute;right:281.10px;top:321.22px;font:400 11.2px/11.2px 'Liberation Sans', sans-serif;color:#383838;white-space:nowrap;transform:scaleX(0.8800);transform-origin:100% 0;-webkit-text-stroke:0.25px #383838;"><span style="display:inline-block;margin:0 -1.05px;transform:scaleX(0.55)">1</span>.520</div>
<div style="position:absolute;right:217.20px;top:321.22px;font:700 11.2px/11.2px 'Liberation Sans', sans-serif;color:#111;white-space:nowrap;transform:scaleX(0.9230);transform-origin:100% 0;">60,6%</div>
<div style="position:absolute;right:148.00px;top:321.22px;font:400 11.2px/11.2px 'Liberation Sans', sans-serif;color:#383838;white-space:nowrap;transform:scaleX(0.8800);transform-origin:100% 0;-webkit-text-stroke:0.25px #383838;"><span style="display:inline-block;margin:0 -1.05px;transform:scaleX(0.55)">1</span>6.<span style="display:inline-block;margin:0 -1.05px;transform:scaleX(0.55)">1</span>42</div>
<div style="position:absolute;right:83.10px;top:321.22px;font:400 11.2px/11.2px 'Liberation Sans', sans-serif;color:#383838;white-space:nowrap;transform:scaleX(0.8800);transform-origin:100% 0;-webkit-text-stroke:0.25px #383838;">7.<span style="display:inline-block;margin:0 -1.05px;transform:scaleX(0.55)">1</span>55</div>
<div style="position:absolute;right:20.80px;top:321.22px;font:700 11.2px/11.2px 'Liberation Sans', sans-serif;color:#111;white-space:nowrap;transform:scaleX(0.9230);transform-origin:100% 0;">44,3%</div>
<div style="position:absolute;left:9.90px;top:337.69px;font:700 10.7px/10.7px 'Liberation Sans', sans-serif;color:#111;white-space:nowrap;transform:scaleX(0.8840);transform-origin:0 0;-webkit-text-stroke:0.2px #111;word-spacing:1.1px;">Total País</div>
<div style="position:absolute;right:541.10px;top:337.67px;font:400 11.2px/11.2px 'Liberation Sans', sans-serif;color:#383838;white-space:nowrap;transform:scaleX(0.8800);transform-origin:100% 0;-webkit-text-stroke:0.25px #383838;">63<span style="display:inline-block;margin:0 -1.05px;transform:scaleX(0.55)">1</span>.7<span style="display:inline-block;margin:0 -1.05px;transform:scaleX(0.55)">1</span>9</div>
<div style="position:absolute;right:476.20px;top:337.67px;font:400 11.2px/11.2px 'Liberation Sans', sans-serif;color:#383838;white-space:nowrap;transform:scaleX(0.8800);transform-origin:100% 0;-webkit-text-stroke:0.25px #383838;">227.925</div>
<div style="position:absolute;right:413.10px;top:337.67px;font:700 11.2px/11.2px 'Liberation Sans', sans-serif;color:#111;white-space:nowrap;transform:scaleX(0.9230);transform-origin:100% 0;">36,<span style="display:inline-block;margin:0 -1.50px;transform:scaleX(0.5)">1</span>%</div>
<div style="position:absolute;right:344.70px;top:337.67px;font:400 11.2px/11.2px 'Liberation Sans', sans-serif;color:#383838;white-space:nowrap;transform:scaleX(0.8800);transform-origin:100% 0;-webkit-text-stroke:0.25px #383838;">2<span style="display:inline-block;margin:0 -1.05px;transform:scaleX(0.55)">1</span>6.584</div>
<div style="position:absolute;right:281.10px;top:337.67px;font:400 11.2px/11.2px 'Liberation Sans', sans-serif;color:#383838;white-space:nowrap;transform:scaleX(0.8800);transform-origin:100% 0;-webkit-text-stroke:0.25px #383838;"><span style="display:inline-block;margin:0 -1.05px;transform:scaleX(0.55)">1</span>38.2<span style="display:inline-block;margin:0 -1.05px;transform:scaleX(0.55)">1</span>2</div>
<div style="position:absolute;right:217.20px;top:337.67px;font:700 11.2px/11.2px 'Liberation Sans', sans-serif;color:#111;white-space:nowrap;transform:scaleX(0.9230);transform-origin:100% 0;">63,8%</div>
<div style="position:absolute;right:148.00px;top:337.67px;font:400 11.2px/11.2px 'Liberation Sans', sans-serif;color:#383838;white-space:nowrap;transform:scaleX(0.8800);transform-origin:100% 0;-webkit-text-stroke:0.25px #383838;">848.303</div>
<div style="position:absolute;right:83.10px;top:337.67px;font:400 11.2px/11.2px 'Liberation Sans', sans-serif;color:#383838;white-space:nowrap;transform:scaleX(0.8800);transform-origin:100% 0;-webkit-text-stroke:0.25px #383838;">366.<span style="display:inline-block;margin:0 -1.05px;transform:scaleX(0.55)">1</span>37</div>
<div style="position:absolute;right:20.80px;top:337.67px;font:700 11.2px/11.2px 'Liberation Sans', sans-serif;color:#111;white-space:nowrap;transform:scaleX(0.9230);transform-origin:100% 0;">43,2%</div>
<div style="position:absolute;left:9.90px;top:354.19px;font:700 10.7px/10.7px 'Liberation Sans', sans-serif;color:#111;white-space:nowrap;transform:scaleX(0.8840);transform-origin:0 0;-webkit-text-stroke:0.2px #111;word-spacing:1.1px;">Mendoza</div>
<div style="position:absolute;right:541.10px;top:354.17px;font:400 11.2px/11.2px 'Liberation Sans', sans-serif;color:#383838;white-space:nowrap;transform:scaleX(0.8800);transform-origin:100% 0;-webkit-text-stroke:0.25px #383838;">26.954</div>
<div style="position:absolute;right:476.20px;top:354.17px;font:400 11.2px/11.2px 'Liberation Sans', sans-serif;color:#383838;white-space:nowrap;transform:scaleX(0.8800);transform-origin:100% 0;-webkit-text-stroke:0.25px #383838;"><span style="display:inline-block;margin:0 -1.05px;transform:scaleX(0.55)">1</span>0.097</div>
<div style="position:absolute;right:413.10px;top:354.17px;font:700 11.2px/11.2px 'Liberation Sans', sans-serif;color:#111;white-space:nowrap;transform:scaleX(0.9230);transform-origin:100% 0;">37,5%</div>
<div style="position:absolute;right:344.70px;top:354.17px;font:400 11.2px/11.2px 'Liberation Sans', sans-serif;color:#383838;white-space:nowrap;transform:scaleX(0.8800);transform-origin:100% 0;-webkit-text-stroke:0.25px #383838;">6.564</div>
<div style="position:absolute;right:281.10px;top:354.17px;font:400 11.2px/11.2px 'Liberation Sans', sans-serif;color:#383838;white-space:nowrap;transform:scaleX(0.8800);transform-origin:100% 0;-webkit-text-stroke:0.25px #383838;">4.295</div>
<div style="position:absolute;right:217.20px;top:354.17px;font:700 11.2px/11.2px 'Liberation Sans', sans-serif;color:#111;white-space:nowrap;transform:scaleX(0.9230);transform-origin:100% 0;">65,4%</div>
<div style="position:absolute;right:148.00px;top:354.17px;font:400 11.2px/11.2px 'Liberation Sans', sans-serif;color:#383838;white-space:nowrap;transform:scaleX(0.8800);transform-origin:100% 0;-webkit-text-stroke:0.25px #383838;">33.5<span style="display:inline-block;margin:0 -1.05px;transform:scaleX(0.55)">1</span>8</div>
<div style="position:absolute;right:83.10px;top:354.17px;font:400 11.2px/11.2px 'Liberation Sans', sans-serif;color:#383838;white-space:nowrap;transform:scaleX(0.8800);transform-origin:100% 0;-webkit-text-stroke:0.25px #383838;"><span style="display:inline-block;margin:0 -1.05px;transform:scaleX(0.55)">1</span>4.392</div>
<div style="position:absolute;right:20.80px;top:354.17px;font:700 11.2px/11.2px 'Liberation Sans', sans-serif;color:#111;white-space:nowrap;transform:scaleX(0.9230);transform-origin:100% 0;">42,9%</div>
<div style="position:absolute;left:9.90px;top:370.74px;font:700 10.7px/10.7px 'Liberation Sans', sans-serif;color:#111;white-space:nowrap;transform:scaleX(0.8840);transform-origin:0 0;-webkit-text-stroke:0.2px #111;word-spacing:1.1px;">Santiago del Estero</div>
<div style="position:absolute;right:541.10px;top:370.72px;font:400 11.2px/11.2px 'Liberation Sans', sans-serif;color:#383838;white-space:nowrap;transform:scaleX(0.8800);transform-origin:100% 0;-webkit-text-stroke:0.25px #383838;"><span style="display:inline-block;margin:0 -1.05px;transform:scaleX(0.55)">1</span>7.435</div>
<div style="position:absolute;right:476.20px;top:370.72px;font:400 11.2px/11.2px 'Liberation Sans', sans-serif;color:#383838;white-space:nowrap;transform:scaleX(0.8800);transform-origin:100% 0;-webkit-text-stroke:0.25px #383838;">6.469</div>
<div style="position:absolute;right:413.10px;top:370.72px;font:700 11.2px/11.2px 'Liberation Sans', sans-serif;color:#111;white-space:nowrap;transform:scaleX(0.9230);transform-origin:100% 0;">37,<span style="display:inline-block;margin:0 -1.50px;transform:scaleX(0.5)">1</span>%</div>
<div style="position:absolute;right:344.70px;top:370.72px;font:400 11.2px/11.2px 'Liberation Sans', sans-serif;color:#383838;white-space:nowrap;transform:scaleX(0.8800);transform-origin:100% 0;-webkit-text-stroke:0.25px #383838;">4.298</div>
<div style="position:absolute;right:281.10px;top:370.72px;font:400 11.2px/11.2px 'Liberation Sans', sans-serif;color:#383838;white-space:nowrap;transform:scaleX(0.8800);transform-origin:100% 0;-webkit-text-stroke:0.25px #383838;">2.8<span style="display:inline-block;margin:0 -1.05px;transform:scaleX(0.55)">1</span>9</div>
<div style="position:absolute;right:217.20px;top:370.72px;font:700 11.2px/11.2px 'Liberation Sans', sans-serif;color:#111;white-space:nowrap;transform:scaleX(0.9230);transform-origin:100% 0;">65,6%</div>
<div style="position:absolute;right:148.00px;top:370.72px;font:400 11.2px/11.2px 'Liberation Sans', sans-serif;color:#383838;white-space:nowrap;transform:scaleX(0.8800);transform-origin:100% 0;-webkit-text-stroke:0.25px #383838;">2<span style="display:inline-block;margin:0 -1.05px;transform:scaleX(0.55)">1</span>.733</div>
<div style="position:absolute;right:83.10px;top:370.72px;font:400 11.2px/11.2px 'Liberation Sans', sans-serif;color:#383838;white-space:nowrap;transform:scaleX(0.8800);transform-origin:100% 0;-webkit-text-stroke:0.25px #383838;">9.288</div>
<div style="position:absolute;right:20.80px;top:370.72px;font:700 11.2px/11.2px 'Liberation Sans', sans-serif;color:#111;white-space:nowrap;transform:scaleX(0.9230);transform-origin:100% 0;">42,7%</div>
<div style="position:absolute;left:9.90px;top:387.39px;font:700 10.7px/10.7px 'Liberation Sans', sans-serif;color:#111;white-space:nowrap;transform:scaleX(0.8840);transform-origin:0 0;-webkit-text-stroke:0.2px #111;word-spacing:1.1px;">Chaco</div>
<div style="position:absolute;right:541.10px;top:387.37px;font:400 11.2px/11.2px 'Liberation Sans', sans-serif;color:#383838;white-space:nowrap;transform:scaleX(0.8800);transform-origin:100% 0;-webkit-text-stroke:0.25px #383838;">24.585</div>
<div style="position:absolute;right:476.20px;top:387.37px;font:400 11.2px/11.2px 'Liberation Sans', sans-serif;color:#383838;white-space:nowrap;transform:scaleX(0.8800);transform-origin:100% 0;-webkit-text-stroke:0.25px #383838;">8.635</div>
<div style="position:absolute;right:413.10px;top:387.37px;font:700 11.2px/11.2px 'Liberation Sans', sans-serif;color:#111;white-space:nowrap;transform:scaleX(0.9230);transform-origin:100% 0;">35,<span style="display:inline-block;margin:0 -1.50px;transform:scaleX(0.5)">1</span>%</div>
<div style="position:absolute;right:344.70px;top:387.37px;font:400 11.2px/11.2px 'Liberation Sans', sans-serif;color:#383838;white-space:nowrap;transform:scaleX(0.8800);transform-origin:100% 0;-webkit-text-stroke:0.25px #383838;">3.368</div>
<div style="position:absolute;right:281.10px;top:387.37px;font:400 11.2px/11.2px 'Liberation Sans', sans-serif;color:#383838;white-space:nowrap;transform:scaleX(0.8800);transform-origin:100% 0;-webkit-text-stroke:0.25px #383838;">2.603</div>
<div style="position:absolute;right:217.20px;top:387.37px;font:700 11.2px/11.2px 'Liberation Sans', sans-serif;color:#111;white-space:nowrap;transform:scaleX(0.9230);transform-origin:100% 0;">77,3%</div>
<div style="position:absolute;right:148.00px;top:387.37px;font:400 11.2px/11.2px 'Liberation Sans', sans-serif;color:#383838;white-space:nowrap;transform:scaleX(0.8800);transform-origin:100% 0;-webkit-text-stroke:0.25px #383838;">27.953</div>
<div style="position:absolute;right:83.10px;top:387.37px;font:400 11.2px/11.2px 'Liberation Sans', sans-serif;color:#383838;white-space:nowrap;transform:scaleX(0.8800);transform-origin:100% 0;-webkit-text-stroke:0.25px #383838;"><span style="display:inline-block;margin:0 -1.05px;transform:scaleX(0.55)">1</span><span style="display:inline-block;margin:0 -1.05px;transform:scaleX(0.55)">1</span>.238</div>
<div style="position:absolute;right:20.80px;top:387.37px;font:700 11.2px/11.2px 'Liberation Sans', sans-serif;color:#111;white-space:nowrap;transform:scaleX(0.9230);transform-origin:100% 0;">40,2%</div>
<div style="position:absolute;left:9.90px;top:403.79px;font:700 10.7px/10.7px 'Liberation Sans', sans-serif;color:#111;white-space:nowrap;transform:scaleX(0.8840);transform-origin:0 0;-webkit-text-stroke:0.2px #111;word-spacing:1.1px;">Formosa</div>
<div style="position:absolute;right:541.10px;top:403.77px;font:400 11.2px/11.2px 'Liberation Sans', sans-serif;color:#383838;white-space:nowrap;transform:scaleX(0.8800);transform-origin:100% 0;-webkit-text-stroke:0.25px #383838;"><span style="display:inline-block;margin:0 -1.05px;transform:scaleX(0.55)">1</span>3.<span style="display:inline-block;margin:0 -1.05px;transform:scaleX(0.55)">1</span><span style="display:inline-block;margin:0 -1.05px;transform:scaleX(0.55)">1</span>7</div>
<div style="position:absolute;right:476.20px;top:403.77px;font:400 11.2px/11.2px 'Liberation Sans', sans-serif;color:#383838;white-space:nowrap;transform:scaleX(0.8800);transform-origin:100% 0;-webkit-text-stroke:0.25px #383838;">4.9<span style="display:inline-block;margin:0 -1.05px;transform:scaleX(0.55)">1</span>9</div>
<div style="position:absolute;right:413.10px;top:403.77px;font:700 11.2px/11.2px 'Liberation Sans', sans-serif;color:#111;white-space:nowrap;transform:scaleX(0.9230);transform-origin:100% 0;">37,5%</div>
<div style="position:absolute;right:344.70px;top:403.77px;font:400 11.2px/11.2px 'Liberation Sans', sans-serif;color:#383838;white-space:nowrap;transform:scaleX(0.8800);transform-origin:100% 0;-webkit-text-stroke:0.25px #383838;"><span style="display:inline-block;margin:0 -1.05px;transform:scaleX(0.55)">1</span>.234</div>
<div style="position:absolute;right:281.10px;top:403.77px;font:400 11.2px/11.2px 'Liberation Sans', sans-serif;color:#383838;white-space:nowrap;transform:scaleX(0.8800);transform-origin:100% 0;-webkit-text-stroke:0.25px #383838;">849</div>
<div style="position:absolute;right:217.20px;top:403.77px;font:700 11.2px/11.2px 'Liberation Sans', sans-serif;color:#111;white-space:nowrap;transform:scaleX(0.9230);transform-origin:100% 0;">68,8%</div>
<div style="position:absolute;right:148.00px;top:403.77px;font:400 11.2px/11.2px 'Liberation Sans', sans-serif;color:#383838;white-space:nowrap;transform:scaleX(0.8800);transform-origin:100% 0;-webkit-text-stroke:0.25px #383838;"><span style="display:inline-block;margin:0 -1.05px;transform:scaleX(0.55)">1</span>4.35<span style="display:inline-block;margin:0 -1.05px;transform:scaleX(0.55)">1</span></div>
<div style="position:absolute;right:83.10px;top:403.77px;font:400 11.2px/11.2px 'Liberation Sans', sans-serif;color:#383838;white-space:nowrap;transform:scaleX(0.8800);transform-origin:100% 0;-webkit-text-stroke:0.25px #383838;">5.768</div>
<div style="position:absolute;right:20.80px;top:403.77px;font:700 11.2px/11.2px 'Liberation Sans', sans-serif;color:#111;white-space:nowrap;transform:scaleX(0.9230);transform-origin:100% 0;">40,2%</div>
<div style="position:absolute;left:9.90px;top:420.34px;font:700 10.7px/10.7px 'Liberation Sans', sans-serif;color:#111;white-space:nowrap;transform:scaleX(0.8840);transform-origin:0 0;-webkit-text-stroke:0.2px #111;word-spacing:1.1px;">Tucumán</div>
<div style="position:absolute;right:541.10px;top:420.32px;font:400 11.2px/11.2px 'Liberation Sans', sans-serif;color:#383838;white-space:nowrap;transform:scaleX(0.8800);transform-origin:100% 0;-webkit-text-stroke:0.25px #383838;">26.894</div>
<div style="position:absolute;right:476.20px;top:420.32px;font:400 11.2px/11.2px 'Liberation Sans', sans-serif;color:#383838;white-space:nowrap;transform:scaleX(0.8800);transform-origin:100% 0;-webkit-text-stroke:0.25px #383838;">8.927</div>
<div style="position:absolute;right:413.10px;top:420.32px;font:700 11.2px/11.2px 'Liberation Sans', sans-serif;color:#111;white-space:nowrap;transform:scaleX(0.9230);transform-origin:100% 0;">33,2%</div>
<div style="position:absolute;right:344.70px;top:420.32px;font:400 11.2px/11.2px 'Liberation Sans', sans-serif;color:#383838;white-space:nowrap;transform:scaleX(0.8800);transform-origin:100% 0;-webkit-text-stroke:0.25px #383838;">7.620</div>
<div style="position:absolute;right:281.10px;top:420.32px;font:400 11.2px/11.2px 'Liberation Sans', sans-serif;color:#383838;white-space:nowrap;transform:scaleX(0.8800);transform-origin:100% 0;-webkit-text-stroke:0.25px #383838;">4.555</div>
<div style="position:absolute;right:217.20px;top:420.32px;font:700 11.2px/11.2px 'Liberation Sans', sans-serif;color:#111;white-space:nowrap;transform:scaleX(0.9230);transform-origin:100% 0;">59,8%</div>
<div style="position:absolute;right:148.00px;top:420.32px;font:400 11.2px/11.2px 'Liberation Sans', sans-serif;color:#383838;white-space:nowrap;transform:scaleX(0.8800);transform-origin:100% 0;-webkit-text-stroke:0.25px #383838;">34.5<span style="display:inline-block;margin:0 -1.05px;transform:scaleX(0.55)">1</span>4</div>
<div style="position:absolute;right:83.10px;top:420.32px;font:400 11.2px/11.2px 'Liberation Sans', sans-serif;color:#383838;white-space:nowrap;transform:scaleX(0.8800);transform-origin:100% 0;-webkit-text-stroke:0.25px #383838;"><span style="display:inline-block;margin:0 -1.05px;transform:scaleX(0.55)">1</span>3.482</div>
<div style="position:absolute;right:20.80px;top:420.32px;font:700 11.2px/11.2px 'Liberation Sans', sans-serif;color:#111;white-space:nowrap;transform:scaleX(0.9230);transform-origin:100% 0;">39,<span style="display:inline-block;margin:0 -1.50px;transform:scaleX(0.5)">1</span>%</div>
<div style="position:absolute;left:9.90px;top:436.89px;font:700 10.7px/10.7px 'Liberation Sans', sans-serif;color:#111;white-space:nowrap;transform:scaleX(0.8840);transform-origin:0 0;-webkit-text-stroke:0.2px #111;word-spacing:1.1px;">San Juan</div>
<div style="position:absolute;right:541.10px;top:436.87px;font:400 11.2px/11.2px 'Liberation Sans', sans-serif;color:#383838;white-space:nowrap;transform:scaleX(0.8800);transform-origin:100% 0;-webkit-text-stroke:0.25px #383838;"><span style="display:inline-block;margin:0 -1.05px;transform:scaleX(0.55)">1</span>3.992</div>
<div style="position:absolute;right:476.20px;top:436.87px;font:400 11.2px/11.2px 'Liberation Sans', sans-serif;color:#383838;white-space:nowrap;transform:scaleX(0.8800);transform-origin:100% 0;-webkit-text-stroke:0.25px #383838;">4.604</div>
<div style="position:absolute;right:413.10px;top:436.87px;font:700 11.2px/11.2px 'Liberation Sans', sans-serif;color:#111;white-space:nowrap;transform:scaleX(0.9230);transform-origin:100% 0;">32,9%</div>
<div style="position:absolute;right:344.70px;top:436.87px;font:400 11.2px/11.2px 'Liberation Sans', sans-serif;color:#383838;white-space:nowrap;transform:scaleX(0.8800);transform-origin:100% 0;-webkit-text-stroke:0.25px #383838;">2.9<span style="display:inline-block;margin:0 -1.05px;transform:scaleX(0.55)">1</span><span style="display:inline-block;margin:0 -1.05px;transform:scaleX(0.55)">1</span></div>
<div style="position:absolute;right:281.10px;top:436.87px;font:400 11.2px/11.2px 'Liberation Sans', sans-serif;color:#383838;white-space:nowrap;transform:scaleX(0.8800);transform-origin:100% 0;-webkit-text-stroke:0.25px #383838;"><span style="display:inline-block;margin:0 -1.05px;transform:scaleX(0.55)">1</span>.959</div>
<div style="position:absolute;right:217.20px;top:436.87px;font:700 11.2px/11.2px 'Liberation Sans', sans-serif;color:#111;white-space:nowrap;transform:scaleX(0.9230);transform-origin:100% 0;">67,3%</div>
<div style="position:absolute;right:148.00px;top:436.87px;font:400 11.2px/11.2px 'Liberation Sans', sans-serif;color:#383838;white-space:nowrap;transform:scaleX(0.8800);transform-origin:100% 0;-webkit-text-stroke:0.25px #383838;"><span style="display:inline-block;margin:0 -1.05px;transform:scaleX(0.55)">1</span>6.903</div>
<div style="position:absolute;right:83.10px;top:436.87px;font:400 11.2px/11.2px 'Liberation Sans', sans-serif;color:#383838;white-space:nowrap;transform:scaleX(0.8800);transform-origin:100% 0;-webkit-text-stroke:0.25px #383838;">6.563</div>
<div style="position:absolute;right:20.80px;top:436.87px;font:700 11.2px/11.2px 'Liberation Sans', sans-serif;color:#111;white-space:nowrap;transform:scaleX(0.9230);transform-origin:100% 0;">38,8%</div>
<div style="position:absolute;left:9.90px;top:453.39px;font:700 10.7px/10.7px 'Liberation Sans', sans-serif;color:#111;white-space:nowrap;transform:scaleX(0.8840);transform-origin:0 0;-webkit-text-stroke:0.2px #111;word-spacing:1.1px;">Entre Ríos</div>
<div style="position:absolute;right:541.10px;top:453.37px;font:400 11.2px/11.2px 'Liberation Sans', sans-serif;color:#383838;white-space:nowrap;transform:scaleX(0.8800);transform-origin:100% 0;-webkit-text-stroke:0.25px #383838;">23.7<span style="display:inline-block;margin:0 -1.05px;transform:scaleX(0.55)">1</span>8</div>
<div style="position:absolute;right:476.20px;top:453.37px;font:400 11.2px/11.2px 'Liberation Sans', sans-serif;color:#383838;white-space:nowrap;transform:scaleX(0.8800);transform-origin:100% 0;-webkit-text-stroke:0.25px #383838;">7.534</div>
<div style="position:absolute;right:413.10px;top:453.37px;font:700 11.2px/11.2px 'Liberation Sans', sans-serif;color:#111;white-space:nowrap;transform:scaleX(0.9230);transform-origin:100% 0;">3<span style="display:inline-block;margin:0 -1.50px;transform:scaleX(0.5)">1</span>,8%</div>
<div style="position:absolute;right:344.70px;top:453.37px;font:400 11.2px/11.2px 'Liberation Sans', sans-serif;color:#383838;white-space:nowrap;transform:scaleX(0.8800);transform-origin:100% 0;-webkit-text-stroke:0.25px #383838;">5.840</div>
<div style="position:absolute;right:281.10px;top:453.37px;font:400 11.2px/11.2px 'Liberation Sans', sans-serif;color:#383838;white-space:nowrap;transform:scaleX(0.8800);transform-origin:100% 0;-webkit-text-stroke:0.25px #383838;">3.9<span style="display:inline-block;margin:0 -1.05px;transform:scaleX(0.55)">1</span>9</div>
<div style="position:absolute;right:217.20px;top:453.37px;font:700 11.2px/11.2px 'Liberation Sans', sans-serif;color:#111;white-space:nowrap;transform:scaleX(0.9230);transform-origin:100% 0;">67,<span style="display:inline-block;margin:0 -1.50px;transform:scaleX(0.5)">1</span>%</div>
<div style="position:absolute;right:148.00px;top:453.37px;font:400 11.2px/11.2px 'Liberation Sans', sans-serif;color:#383838;white-space:nowrap;transform:scaleX(0.8800);transform-origin:100% 0;-webkit-text-stroke:0.25px #383838;">29.558</div>
<div style="position:absolute;right:83.10px;top:453.37px;font:400 11.2px/11.2px 'Liberation Sans', sans-serif;color:#383838;white-space:nowrap;transform:scaleX(0.8800);transform-origin:100% 0;-webkit-text-stroke:0.25px #383838;"><span style="display:inline-block;margin:0 -1.05px;transform:scaleX(0.55)">1</span><span style="display:inline-block;margin:0 -1.05px;transform:scaleX(0.55)">1</span>.453</div>
<div style="position:absolute;right:20.80px;top:453.37px;font:700 11.2px/11.2px 'Liberation Sans', sans-serif;color:#111;white-space:nowrap;transform:scaleX(0.9230);transform-origin:100% 0;">38,7%</div>
<div style="position:absolute;left:9.90px;top:469.89px;font:700 10.7px/10.7px 'Liberation Sans', sans-serif;color:#111;white-space:nowrap;transform:scaleX(0.8840);transform-origin:0 0;-webkit-text-stroke:0.2px #111;word-spacing:1.1px;">Río Negro</div>
<div style="position:absolute;right:541.10px;top:469.87px;font:400 11.2px/11.2px 'Liberation Sans', sans-serif;color:#383838;white-space:nowrap;transform:scaleX(0.8800);transform-origin:100% 0;-webkit-text-stroke:0.25px #383838;"><span style="display:inline-block;margin:0 -1.05px;transform:scaleX(0.55)">1</span>3.077</div>
<div style="position:absolute;right:476.20px;top:469.87px;font:400 11.2px/11.2px 'Liberation Sans', sans-serif;color:#383838;white-space:nowrap;transform:scaleX(0.8800);transform-origin:100% 0;-webkit-text-stroke:0.25px #383838;">4.247</div>
<div style="position:absolute;right:413.10px;top:469.87px;font:700 11.2px/11.2px 'Liberation Sans', sans-serif;color:#111;white-space:nowrap;transform:scaleX(0.9230);transform-origin:100% 0;">32,5%</div>
<div style="position:absolute;right:344.70px;top:469.87px;font:400 11.2px/11.2px 'Liberation Sans', sans-serif;color:#383838;white-space:nowrap;transform:scaleX(0.8800);transform-origin:100% 0;-webkit-text-stroke:0.25px #383838;">2406</div>
<div style="position:absolute;right:281.10px;top:469.87px;font:400 11.2px/11.2px 'Liberation Sans', sans-serif;color:#383838;white-space:nowrap;transform:scaleX(0.8800);transform-origin:100% 0;-webkit-text-stroke:0.25px #383838;"><span style="display:inline-block;margin:0 -1.05px;transform:scaleX(0.55)">1</span>.58<span style="display:inline-block;margin:0 -1.05px;transform:scaleX(0.55)">1</span></div>
<div style="position:absolute;right:217.20px;top:469.87px;font:700 11.2px/11.2px 'Liberation Sans', sans-serif;color:#111;white-space:nowrap;transform:scaleX(0.9230);transform-origin:100% 0;">65,7%</div>
<div style="position:absolute;right:148.00px;top:469.87px;font:400 11.2px/11.2px 'Liberation Sans', sans-serif;color:#383838;white-space:nowrap;transform:scaleX(0.8800);transform-origin:100% 0;-webkit-text-stroke:0.25px #383838;"><span style="display:inline-block;margin:0 -1.05px;transform:scaleX(0.55)">1</span>5.483</div>
<div style="position:absolute;right:83.10px;top:469.87px;font:400 11.2px/11.2px 'Liberation Sans', sans-serif;color:#383838;white-space:nowrap;transform:scaleX(0.8800);transform-origin:100% 0;-webkit-text-stroke:0.25px #383838;">5.828</div>
<div style="position:absolute;right:20.80px;top:469.87px;font:700 11.2px/11.2px 'Liberation Sans', sans-serif;color:#111;white-space:nowrap;transform:scaleX(0.9230);transform-origin:100% 0;">37,6%</div>
<div style="position:absolute;left:9.90px;top:486.69px;font:700 10.7px/10.7px 'Liberation Sans', sans-serif;color:#111;white-space:nowrap;transform:scaleX(0.8840);transform-origin:0 0;-webkit-text-stroke:0.2px #111;word-spacing:1.1px;">Misiones</div>
<div style="position:absolute;right:541.10px;top:486.67px;font:400 11.2px/11.2px 'Liberation Sans', sans-serif;color:#383838;white-space:nowrap;transform:scaleX(0.8800);transform-origin:100% 0;-webkit-text-stroke:0.25px #383838;">23.<span style="display:inline-block;margin:0 -1.05px;transform:scaleX(0.55)">1</span>70</div>
<div style="position:absolute;right:476.20px;top:486.67px;font:400 11.2px/11.2px 'Liberation Sans', sans-serif;color:#383838;white-space:nowrap;transform:scaleX(0.8800);transform-origin:100% 0;-webkit-text-stroke:0.25px #383838;">7.<span style="display:inline-block;margin:0 -1.05px;transform:scaleX(0.55)">1</span>86</div>
<div style="position:absolute;right:413.10px;top:486.67px;font:700 11.2px/11.2px 'Liberation Sans', sans-serif;color:#111;white-space:nowrap;transform:scaleX(0.9230);transform-origin:100% 0;">3<span style="display:inline-block;margin:0 -1.50px;transform:scaleX(0.5)">1</span>,0%</div>
<div style="position:absolute;right:344.70px;top:486.67px;font:400 11.2px/11.2px 'Liberation Sans', sans-serif;color:#383838;white-space:nowrap;transform:scaleX(0.8800);transform-origin:100% 0;-webkit-text-stroke:0.25px #383838;">4.828</div>
<div style="position:absolute;right:281.10px;top:486.67px;font:400 11.2px/11.2px 'Liberation Sans', sans-serif;color:#383838;white-space:nowrap;transform:scaleX(0.8800);transform-origin:100% 0;-webkit-text-stroke:0.25px #383838;">3.22<span style="display:inline-block;margin:0 -1.05px;transform:scaleX(0.55)">1</span></div>
<div style="position:absolute;right:217.20px;top:486.67px;font:700 11.2px/11.2px 'Liberation Sans', sans-serif;color:#111;white-space:nowrap;transform:scaleX(0.9230);transform-origin:100% 0;">66,7%</div>
<div style="position:absolute;right:148.00px;top:486.67px;font:400 11.2px/11.2px 'Liberation Sans', sans-serif;color:#383838;white-space:nowrap;transform:scaleX(0.8800);transform-origin:100% 0;-webkit-text-stroke:0.25px #383838;">27.998</div>
<div style="position:absolute;right:83.10px;top:486.67px;font:400 11.2px/11.2px 'Liberation Sans', sans-serif;color:#383838;white-space:nowrap;transform:scaleX(0.8800);transform-origin:100% 0;-webkit-text-stroke:0.25px #383838;"><span style="display:inline-block;margin:0 -1.05px;transform:scaleX(0.55)">1</span>0.407</div>
<div style="position:absolute;right:20.80px;top:486.67px;font:700 11.2px/11.2px 'Liberation Sans', sans-serif;color:#111;white-space:nowrap;transform:scaleX(0.9230);transform-origin:100% 0;">37,2%</div>
<div style="position:absolute;left:9.90px;top:503.74px;font:700 10.7px/10.7px 'Liberation Sans', sans-serif;color:#111;white-space:nowrap;transform:scaleX(0.8840);transform-origin:0 0;-webkit-text-stroke:0.2px #111;word-spacing:1.1px;">Neuquén</div>
<div style="position:absolute;right:541.10px;top:503.72px;font:400 11.2px/11.2px 'Liberation Sans', sans-serif;color:#383838;white-space:nowrap;transform:scaleX(0.8800);transform-origin:100% 0;-webkit-text-stroke:0.25px #383838;"><span style="display:inline-block;margin:0 -1.05px;transform:scaleX(0.55)">1</span>2.092</div>
<div style="position:absolute;right:476.20px;top:503.72px;font:400 11.2px/11.2px 'Liberation Sans', sans-serif;color:#383838;white-space:nowrap;transform:scaleX(0.8800);transform-origin:100% 0;-webkit-text-stroke:0.25px #383838;">4.089</div>
<div style="position:absolute;right:413.10px;top:503.72px;font:700 11.2px/11.2px 'Liberation Sans', sans-serif;color:#111;white-space:nowrap;transform:scaleX(0.9230);transform-origin:100% 0;">33,8%</div>
<div style="position:absolute;right:344.70px;top:503.72px;font:400 11.2px/11.2px 'Liberation Sans', sans-serif;color:#383838;white-space:nowrap;transform:scaleX(0.8800);transform-origin:100% 0;-webkit-text-stroke:0.25px #383838;"><span style="display:inline-block;margin:0 -1.05px;transform:scaleX(0.55)">1</span>.523</div>
<div style="position:absolute;right:281.10px;top:503.72px;font:400 11.2px/11.2px 'Liberation Sans', sans-serif;color:#383838;white-space:nowrap;transform:scaleX(0.8800);transform-origin:100% 0;-webkit-text-stroke:0.25px #383838;">97<span style="display:inline-block;margin:0 -1.05px;transform:scaleX(0.55)">1</span></div>
<div style="position:absolute;right:217.20px;top:503.72px;font:700 11.2px/11.2px 'Liberation Sans', sans-serif;color:#111;white-space:nowrap;transform:scaleX(0.9230);transform-origin:100% 0;">63,8%</div>
<div style="position:absolute;right:148.00px;top:503.72px;font:400 11.2px/11.2px 'Liberation Sans', sans-serif;color:#383838;white-space:nowrap;transform:scaleX(0.8800);transform-origin:100% 0;-webkit-text-stroke:0.25px #383838;"><span style="display:inline-block;margin:0 -1.05px;transform:scaleX(0.55)">1</span>3.6<span style="display:inline-block;margin:0 -1.05px;transform:scaleX(0.55)">1</span>5</div>
<div style="position:absolute;right:83.10px;top:503.72px;font:400 11.2px/11.2px 'Liberation Sans', sans-serif;color:#383838;white-space:nowrap;transform:scaleX(0.8800);transform-origin:100% 0;-webkit-text-stroke:0.25px #383838;">5.060</div>
<div style="position:absolute;right:20.80px;top:503.72px;font:700 11.2px/11.2px 'Liberation Sans', sans-serif;color:#111;white-space:nowrap;transform:scaleX(0.9230);transform-origin:100% 0;">37,2%</div>
<div style="position:absolute;left:9.90px;top:520.64px;font:700 10.7px/10.7px 'Liberation Sans', sans-serif;color:#111;white-space:nowrap;transform:scaleX(0.8840);transform-origin:0 0;-webkit-text-stroke:0.2px #111;word-spacing:1.1px;">Salta</div>
<div style="position:absolute;right:541.10px;top:520.62px;font:400 11.2px/11.2px 'Liberation Sans', sans-serif;color:#383838;white-space:nowrap;transform:scaleX(0.8800);transform-origin:100% 0;-webkit-text-stroke:0.25px #383838;">29.057</div>
<div style="position:absolute;right:476.20px;top:520.62px;font:400 11.2px/11.2px 'Liberation Sans', sans-serif;color:#383838;white-space:nowrap;transform:scaleX(0.8800);transform-origin:100% 0;-webkit-text-stroke:0.25px #383838;">9.462</div>
<div style="position:absolute;right:413.10px;top:520.62px;font:700 11.2px/11.2px 'Liberation Sans', sans-serif;color:#111;white-space:nowrap;transform:scaleX(0.9230);transform-origin:100% 0;">32,6%</div>
<div style="position:absolute;right:344.70px;top:520.62px;font:400 11.2px/11.2px 'Liberation Sans', sans-serif;color:#383838;white-space:nowrap;transform:scaleX(0.8800);transform-origin:100% 0;-webkit-text-stroke:0.25px #383838;">5.678</div>
<div style="position:absolute;right:281.10px;top:520.62px;font:400 11.2px/11.2px 'Liberation Sans', sans-serif;color:#383838;white-space:nowrap;transform:scaleX(0.8800);transform-origin:100% 0;-webkit-text-stroke:0.25px #383838;">3.<span style="display:inline-block;margin:0 -1.05px;transform:scaleX(0.55)">1</span>74</div>
<div style="position:absolute;right:217.20px;top:520.62px;font:700 11.2px/11.2px 'Liberation Sans', sans-serif;color:#111;white-space:nowrap;transform:scaleX(0.9230);transform-origin:100% 0;">55,9%</div>
<div style="position:absolute;right:148.00px;top:520.62px;font:400 11.2px/11.2px 'Liberation Sans', sans-serif;color:#383838;white-space:nowrap;transform:scaleX(0.8800);transform-origin:100% 0;-webkit-text-stroke:0.25px #383838;">34.735</div>
<div style="position:absolute;right:83.10px;top:520.62px;font:400 11.2px/11.2px 'Liberation Sans', sans-serif;color:#383838;white-space:nowrap;transform:scaleX(0.8800);transform-origin:100% 0;-webkit-text-stroke:0.25px #383838;"><span style="display:inline-block;margin:0 -1.05px;transform:scaleX(0.55)">1</span>2.636</div>
<div style="position:absolute;right:20.80px;top:520.62px;font:700 11.2px/11.2px 'Liberation Sans', sans-serif;color:#111;white-space:nowrap;transform:scaleX(0.9230);transform-origin:100% 0;">36,4%</div>
<div style="position:absolute;left:9.90px;top:537.74px;font:700 10.7px/10.7px 'Liberation Sans', sans-serif;color:#111;white-space:nowrap;transform:scaleX(0.8840);transform-origin:0 0;-webkit-text-stroke:0.2px #111;word-spacing:1.1px;">Santa Cruz</div>
<div style="position:absolute;right:541.10px;top:537.72px;font:400 11.2px/11.2px 'Liberation Sans', sans-serif;color:#383838;white-space:nowrap;transform:scaleX(0.8800);transform-origin:100% 0;-webkit-text-stroke:0.25px #383838;">5.36<span style="display:inline-block;margin:0 -1.05px;transform:scaleX(0.55)">1</span></div>
<div style="position:absolute;right:476.20px;top:537.72px;font:400 11.2px/11.2px 'Liberation Sans', sans-serif;color:#383838;white-space:nowrap;transform:scaleX(0.8800);transform-origin:100% 0;-webkit-text-stroke:0.25px #383838;"><span style="display:inline-block;margin:0 -1.05px;transform:scaleX(0.55)">1</span>.697</div>
<div style="position:absolute;right:413.10px;top:537.72px;font:700 11.2px/11.2px 'Liberation Sans', sans-serif;color:#111;white-space:nowrap;transform:scaleX(0.9230);transform-origin:100% 0;">3<span style="display:inline-block;margin:0 -1.50px;transform:scaleX(0.5)">1</span>,7%</div>
<div style="position:absolute;right:344.70px;top:537.72px;font:400 11.2px/11.2px 'Liberation Sans', sans-serif;color:#383838;white-space:nowrap;transform:scaleX(0.8800);transform-origin:100% 0;-webkit-text-stroke:0.25px #383838;">979</div>
<div style="position:absolute;right:281.10px;top:537.72px;font:400 11.2px/11.2px 'Liberation Sans', sans-serif;color:#383838;white-space:nowrap;transform:scaleX(0.8800);transform-origin:100% 0;-webkit-text-stroke:0.25px #383838;">559</div>
<div style="position:absolute;right:217.20px;top:537.72px;font:700 11.2px/11.2px 'Liberation Sans', sans-serif;color:#111;white-space:nowrap;transform:scaleX(0.9230);transform-origin:100% 0;">57,<span style="display:inline-block;margin:0 -1.50px;transform:scaleX(0.5)">1</span>%</div>
<div style="position:absolute;right:148.00px;top:537.72px;font:400 11.2px/11.2px 'Liberation Sans', sans-serif;color:#383838;white-space:nowrap;transform:scaleX(0.8800);transform-origin:100% 0;-webkit-text-stroke:0.25px #383838;">6.340</div>
<div style="position:absolute;right:83.10px;top:537.72px;font:400 11.2px/11.2px 'Liberation Sans', sans-serif;color:#383838;white-space:nowrap;transform:scaleX(0.8800);transform-origin:100% 0;-webkit-text-stroke:0.25px #383838;">2.256</div>
<div style="position:absolute;right:20.80px;top:537.72px;font:700 11.2px/11.2px 'Liberation Sans', sans-serif;color:#111;white-space:nowrap;transform:scaleX(0.9230);transform-origin:100% 0;">35,6%</div>
<div style="position:absolute;left:9.90px;top:554.74px;font:700 10.7px/10.7px 'Liberation Sans', sans-serif;color:#111;white-space:nowrap;transform:scaleX(0.8840);transform-origin:0 0;-webkit-text-stroke:0.2px #111;word-spacing:1.1px;">Santa Fe</div>
<div style="position:absolute;right:541.10px;top:554.72px;font:400 11.2px/11.2px 'Liberation Sans', sans-serif;color:#383838;white-space:nowrap;transform:scaleX(0.8800);transform-origin:100% 0;-webkit-text-stroke:0.25px #383838;">47.940</div>
<div style="position:absolute;right:476.20px;top:554.72px;font:400 11.2px/11.2px 'Liberation Sans', sans-serif;color:#383838;white-space:nowrap;transform:scaleX(0.8800);transform-origin:100% 0;-webkit-text-stroke:0.25px #383838;"><span style="display:inline-block;margin:0 -1.05px;transform:scaleX(0.55)">1</span><span style="display:inline-block;margin:0 -1.05px;transform:scaleX(0.55)">1</span>.520</div>
<div style="position:absolute;right:413.10px;top:554.72px;font:700 11.2px/11.2px 'Liberation Sans', sans-serif;color:#111;white-space:nowrap;transform:scaleX(0.9230);transform-origin:100% 0;">24,0%</div>
<div style="position:absolute;right:344.70px;top:554.72px;font:400 11.2px/11.2px 'Liberation Sans', sans-serif;color:#383838;white-space:nowrap;transform:scaleX(0.8800);transform-origin:100% 0;-webkit-text-stroke:0.25px #383838;"><span style="display:inline-block;margin:0 -1.05px;transform:scaleX(0.55)">1</span>7.263</div>
<div style="position:absolute;right:281.10px;top:554.72px;font:400 11.2px/11.2px 'Liberation Sans', sans-serif;color:#383838;white-space:nowrap;transform:scaleX(0.8800);transform-origin:100% 0;-webkit-text-stroke:0.25px #383838;">9.243</div>
<div style="position:absolute;right:217.20px;top:554.72px;font:700 11.2px/11.2px 'Liberation Sans', sans-serif;color:#111;white-space:nowrap;transform:scaleX(0.9230);transform-origin:100% 0;">53,5%</div>
<div style="position:absolute;right:148.00px;top:554.72px;font:400 11.2px/11.2px 'Liberation Sans', sans-serif;color:#383838;white-space:nowrap;transform:scaleX(0.8800);transform-origin:100% 0;-webkit-text-stroke:0.25px #383838;">65.203</div>
<div style="position:absolute;right:83.10px;top:554.72px;font:400 11.2px/11.2px 'Liberation Sans', sans-serif;color:#383838;white-space:nowrap;transform:scaleX(0.8800);transform-origin:100% 0;-webkit-text-stroke:0.25px #383838;">20.763</div>
<div style="position:absolute;right:20.80px;top:554.72px;font:700 11.2px/11.2px 'Liberation Sans', sans-serif;color:#111;white-space:nowrap;transform:scaleX(0.9230);transform-origin:100% 0;">3<span style="display:inline-block;margin:0 -1.50px;transform:scaleX(0.5)">1</span>,8%</div>
<div style="position:absolute;left:444.80px;top:578.07px;font:400 7.6px/7.6px 'Liberation Sans', sans-serif;color:#1e1e1e;white-space:nowrap;transform:scaleX(0.9042);transform-origin:0 0;-webkit-text-stroke:0.3px #1e1e1e;">Fuente: Centro de Estudios de la Educación Argentina (CEA) de la Universidad de Belgrano</div>
</body></html>
